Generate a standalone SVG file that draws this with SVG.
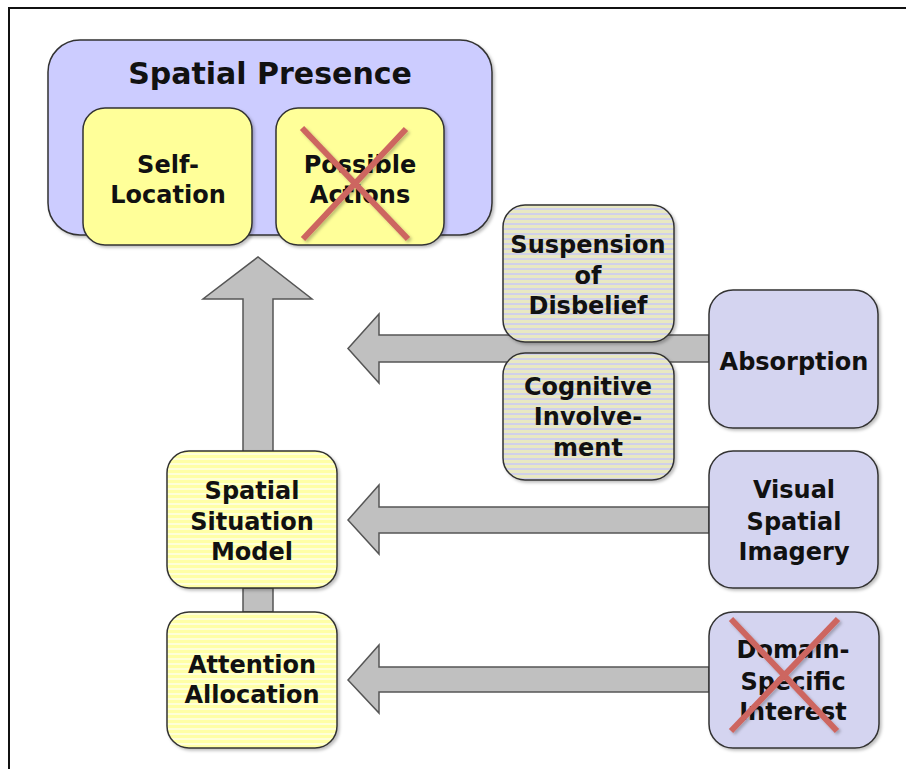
<svg xmlns="http://www.w3.org/2000/svg" width="906" height="769" viewBox="0 0 906 769">
<defs>
<pattern id="yStripe" width="8" height="5" patternUnits="userSpaceOnUse">
<rect width="8" height="5" fill="#ffffa6"/>
<rect y="3" width="8" height="2" fill="#ffffd8"/>
</pattern>
<pattern id="gStripe" width="8" height="5" patternUnits="userSpaceOnUse">
<rect width="8" height="5" fill="#e8e8c2"/>
<rect y="3" width="8" height="2" fill="#d0d0ea"/>
</pattern>
<filter id="sh" x="-10%" y="-10%" width="130%" height="130%">
<feDropShadow dx="2" dy="2" stdDeviation="1.5" flood-color="#000" flood-opacity="0.25"/>
</filter>
</defs>
<style>
.t{font-family:"DejaVu Sans",Verdana,sans-serif;font-weight:bold;font-size:24px;fill:#111;text-anchor:middle}
.title{font-size:30px}
.box{stroke:#333;stroke-width:1.5}
.blue{fill:#ccccff}
.lav{fill:#d4d4f0}
.yel{fill:#ffff99}
.arr{fill:#c0c0c0;stroke:#555;stroke-width:1.5;stroke-linejoin:miter}
.x{stroke:#cd6660;stroke-width:6;stroke-linecap:butt}
.frame{stroke:#111;stroke-width:2;fill:none}
</style>
<rect width="906" height="769" fill="#fff"/>
<path class="frame" d="M9,769 V8 H906"/>

<g id="connectors">
<polygon class="arr" points="243,452 243,299 203,299 258,257 312,299 273,299 273,452"/>
<rect class="arr" x="243" y="588" width="30" height="24"/>
<polygon class="arr" points="709,335 379,335 379,314 348,348.5 379,383 379,362 709,362"/>
<polygon class="arr" points="709,507 379,507 379,485 348,520 379,554 379,533 709,533"/>
<polygon class="arr" points="709,667 379,667 379,645 348,680 379,713 379,692 709,692"/>
</g>

<g id="spatial-presence">
<rect class="box blue" x="48" y="40" width="444" height="195" rx="32" filter="url(#sh)"/>
<text class="t title" x="270" y="84">Spatial Presence</text>
</g>
<g id="self-location">
<rect class="box yel" x="83" y="108" width="169" height="137" rx="22" filter="url(#sh)"/>
<text class="t" x="168" y="173">Self-</text>
<text class="t" x="168" y="203">Location</text>
</g>
<g id="possible-actions">
<rect class="box yel" x="276" y="108" width="168" height="137" rx="22" filter="url(#sh)"/>
<text class="t" x="360" y="173">Possible</text>
<text class="t" x="360" y="203">Actions</text>
<g filter="url(#sh)">
<line class="x" x1="302" y1="128" x2="408" y2="239"/>
<line class="x" x1="406" y1="129" x2="303" y2="239"/>
</g>
</g>

<g id="suspension-of-disbelief">
<rect class="box" fill="url(#gStripe)" x="503" y="205" width="171" height="137" rx="22" filter="url(#sh)"/>
<text class="t" x="588" y="253">Suspension</text>
<text class="t" x="588" y="284">of</text>
<text class="t" x="588" y="314">Disbelief</text>
</g>
<g id="cognitive-involvement">
<rect class="box" fill="url(#gStripe)" x="503" y="353" width="171" height="127" rx="22" filter="url(#sh)"/>
<text class="t" x="588" y="395">Cognitive</text>
<text class="t" x="588" y="425">Involve-</text>
<text class="t" x="588" y="456">ment</text>
</g>
<g id="absorption">
<rect class="box lav" x="709" y="290" width="169" height="138" rx="24" filter="url(#sh)"/>
<text class="t" x="794" y="370">Absorption</text>
</g>

<g id="spatial-situation-model">
<rect class="box" fill="url(#yStripe)" x="167" y="451" width="170" height="137" rx="22" filter="url(#sh)"/>
<text class="t" x="252" y="499">Spatial</text>
<text class="t" x="252" y="530">Situation</text>
<text class="t" x="252" y="560">Model</text>
</g>
<g id="visual-spatial-imagery">
<rect class="box lav" x="709" y="451" width="169" height="137" rx="24" filter="url(#sh)"/>
<text class="t" x="794" y="498">Visual</text>
<text class="t" x="794" y="530">Spatial</text>
<text class="t" x="794" y="560">Imagery</text>
</g>

<g id="attention-allocation">
<rect class="box" fill="url(#yStripe)" x="167" y="612" width="170" height="136" rx="22" filter="url(#sh)"/>
<text class="t" x="252" y="673">Attention</text>
<text class="t" x="252" y="703">Allocation</text>
</g>
<g id="domain-specific-interest">
<rect class="box lav" x="709" y="612" width="170" height="136" rx="24" filter="url(#sh)"/>
<text class="t" x="793" y="658">Domain-</text>
<text class="t" x="793" y="690">Specific</text>
<text class="t" x="793" y="720">Interest</text>
<g filter="url(#sh)">
<line class="x" x1="731" y1="619" x2="837" y2="731"/>
<line class="x" x1="838" y1="619" x2="731" y2="731"/>
</g>
</g>
</svg>
